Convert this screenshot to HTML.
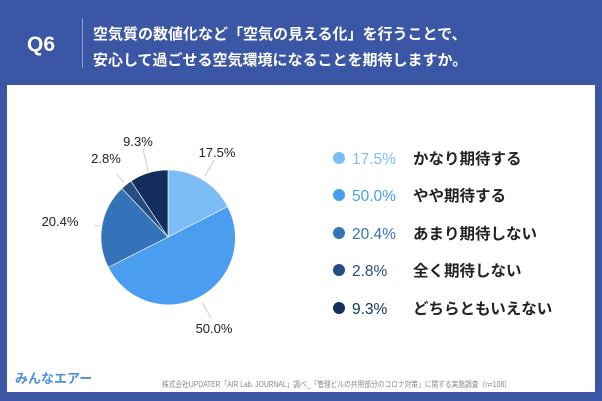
<!DOCTYPE html>
<html><head><meta charset="utf-8"><style>
body{margin:0;width:602px;height:401px;background:#3a56a5;position:relative;overflow:hidden;font-family:"Liberation Sans","Noto Sans CJK JP",sans-serif}
.box{position:absolute;left:7px;top:85px;width:588px;height:307px;background:#fff}
.t{position:absolute;white-space:nowrap}
</style></head><body>
<div class="t" style="left:27px;top:33px;color:#fff;font-size:21px;font-weight:bold">Q6</div>
<div style="position:absolute;left:82px;top:18px;width:1px;height:50px;background:#8ea0d0"></div>
<div class="t" style="left:93px;top:22px;color:#fff;font-size:15px;font-weight:bold;line-height:26px">空気質の数値化など「空気の見える化」を行うことで、<br>安心して過ごせる空気環境になることを期待しますか。</div>
<div class="box"></div>
<svg width="602" height="401" style="position:absolute;left:0;top:0">
<g stroke="#fff" stroke-width="0.6">
<path d="M168,237 L168,170 A67,67 0 0 1 227.7,206.6 Z" fill="#7dbdf7"/>
<path d="M168,237 L227.7,206.6 A67,67 0 1 1 108.3,267.4 Z" fill="#4b9df0"/>
<path d="M168,237 L108.3,267.4 A67,67 0 0 1 121.9,188.4 Z" fill="#3473ba"/>
<path d="M168,237 L121.9,188.4 A67,67 0 0 1 131.0,181.1 Z" fill="#244d82"/>
<path d="M168,237 L131.0,181.1 A67,67 0 0 1 168,170 Z" fill="#142f5e"/>
</g>
<g stroke="#ccc" stroke-width="1" fill="none">
<path d="M205,176 L214,160"/><path d="M148,171 L143,149"/><path d="M124,183 L117,174"/><path d="M95,225 L99,226"/><path d="M202,302 L211,318"/>
</g>
<g font-size="13" fill="#222" text-anchor="middle" font-family="Liberation Sans, sans-serif">
<text x="217" y="157">17.5%</text><text x="138" y="146">9.3%</text><text x="106" y="163">2.8%</text><text x="60" y="226">20.4%</text><text x="214" y="333">50.0%</text>
</g>
<g font-size="15.5" font-family="Liberation Sans, Noto Sans CJK JP, sans-serif">
<circle cx="339" cy="158" r="6" fill="#7dbdf7"/><text x="352" y="164" fill="#7dbdf7">17.5%</text><text x="413" y="164" fill="#222" font-weight="bold">かなり期待する</text>
<circle cx="339" cy="195" r="6" fill="#4b9df0"/><text x="352" y="201" fill="#4b9df0">50.0%</text><text x="413" y="201" fill="#222" font-weight="bold">やや期待する</text>
<circle cx="339" cy="233" r="6" fill="#3473ba"/><text x="352" y="239" fill="#3473ba">20.4%</text><text x="413" y="239" fill="#222" font-weight="bold">あまり期待しない</text>
<circle cx="339" cy="270" r="6" fill="#244d82"/><text x="352" y="276" fill="#244d82">2.8%</text><text x="413" y="276" fill="#222" font-weight="bold">全く期待しない</text>
<circle cx="339" cy="308" r="6" fill="#142f5e"/><text x="352" y="314" fill="#142f5e">9.3%</text><text x="413" y="314" fill="#222" font-weight="bold">どちらともいえない</text>
</g>
</svg>
<div class="t" style="left:15px;top:368px;color:#4a8fd8;font-size:13px;font-weight:bold">みんなエアー</div>
<div class="t" style="left:162px;top:379px;color:#888;font-size:8px;transform:scale(0.84,1);transform-origin:0 0">株式会社UPDATER「AIR Lab. JOURNAL」調べ_「管理ビルの共用部分のコロナ対策」に関する実態調査（n=108）</div>
</body></html>
